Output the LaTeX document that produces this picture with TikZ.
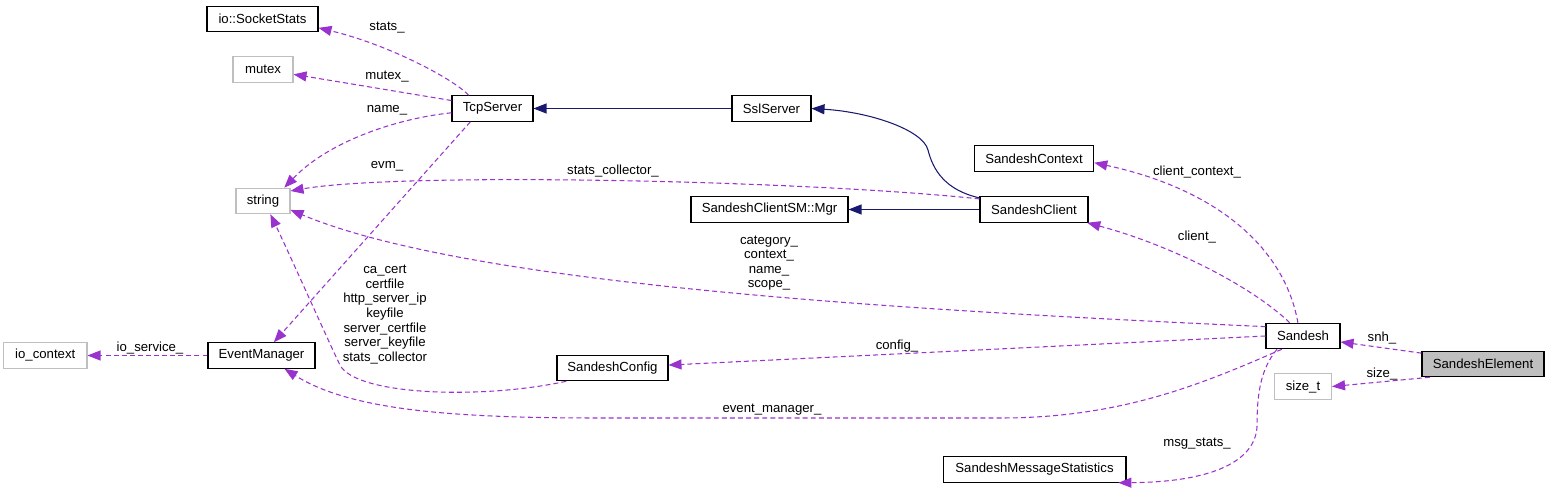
\documentclass[tikz,border=0pt]{standalone}
\usepackage{fontspec}
\setmainfont{Liberation Sans}
\usetikzlibrary{arrows.meta, positioning}
\definecolor{memberpurple}{RGB}{154,50,205}
\definecolor{inheritnavy}{RGB}{25,25,112}
\definecolor{extgray}{RGB}{191,191,191}

\begin{document}
\begin{tikzpicture}[x=0.02cm, y=0.02cm,
    cls/.style={rectangle, draw=black, line width=0.6pt, minimum height=0.51cm, inner sep=0pt, font=\fontsize{7.5}{9}\selectfont},
    extcls/.style={cls, draw=extgray},
    member/.style={-{Triangle[length=2.6mm, width=2mm]}, dash pattern=on 2.8pt off 1.8pt, color=memberpurple, line width=0.6pt},
    inherit/.style={-{Triangle[length=2.6mm, width=2mm]}, color=inheritnavy, line width=0.6pt},
    lbl/.style={font=\fontsize{7.5}{8.3}\selectfont, align=center, inner sep=0pt, text=black}
]
\useasboundingbox (0,0) rectangle (1549,-489);
\node[cls, minimum width=2.22cm] (sockstats) at (262.5,-19) {io::SocketStats};
\node[extcls, minimum width=1.2cm] (mutex) at (263,-69.5) {mutex};
\node[cls, minimum width=1.62cm] (tcp) at (492.5,-108.5) {TcpServer};
\node[cls, minimum width=1.58cm, right=3.96cm of tcp] (ssl) {SslServer};
\node[extcls, minimum width=1.08cm] (string) at (263,-201) {string};
\node[cls, minimum width=2.16cm] (client) at (1034,-209.5) {SandeshClient};
\node[cls, minimum width=3.14cm, left=2.62cm of client] (mgr) {SandeshClientSM::Mgr};
\node[cls, minimum width=2.39cm] (context) at (1034,-158.5) {SandeshContext};
\node[cls, minimum width=2.14cm] (evm) at (261.5,-355.5) {EventManager};
\node[extcls, minimum width=1.67cm, left=2.4cm of evm] (iocontext) {io\_context};
\node[cls, minimum width=2.22cm] (config) at (612.5,-368) {SandeshConfig};
\node[cls, minimum width=1.48cm] (sandesh) at (1303,-336) {Sandesh};
\node[extcls, minimum width=1.14cm, below=0.48cm of sandesh] (sizet) {size\_t};
\node[cls, minimum width=2.44cm, fill=extgray] (element) at (1483,-364) {SandeshElement};
\node[cls, minimum width=3.66cm] (msgstats) at (1034.5,-469.5) {SandeshMessageStatistics};
\draw[inherit] (ssl) -- (tcp);
\draw[inherit] (client.168) .. controls (945,-190) and (933,-170) .. (928,-150) .. controls (923,-130) and (870,-112) .. (ssl.east);
\draw[inherit] (client) -- (mgr);
\draw[member] (tcp.151) .. controls (455,-80) and (390,-45) .. (sockstats.-9) node[lbl] at (387,-28) {stats\_};
\draw[member] (tcp.169) -- (mutex.-9) node[lbl] at (387,-77) {mutex\_};
\draw[member] (tcp.186) .. controls (400,-118) and (330,-140) .. (string.32) node[lbl] at (387,-110) {name\_};
\draw[member] (tcp.211) -- (evm.47) node[lbl] at (387,-166) {evm\_};
\draw[member] (client.169) .. controls (800,-180) and (400,-172) .. (string.20) node[lbl] at (613,-171) {stats\_collector\_};
\draw[member] (sandesh.166) .. controls (900,-310) and (470,-285) .. (string.-18) node[lbl] at (769,-263) {category\_\\context\_\\name\_\\scope\_};
\draw[member] (sandesh.111) .. controls (1285,-250) and (1220,-190) .. (context.-4) node[lbl] at (1197,-172) {client\_context\_};
\draw[member] (sandesh.135) .. controls (1250,-285) and (1170,-245) .. (client.-14) node[lbl] at (1197,-237) {client\_};
\draw[member] (sandesh.west) -- (config.3) node[lbl] at (897,-346) {config\_};
\draw[member] (sandesh.-148) .. controls (1200,-385) and (1120,-418) .. (1000,-418) -- (600,-418) .. controls (450,-418) and (350,-410) .. (evm.-30) node[lbl] at (772,-410) {event\_manager\_};
\draw[member] (sandesh.-153) .. controls (1260,-370) and (1257,-395) .. (1257,-427) .. controls (1255,-460) and (1215,-482) .. (msgstats.-9) node[lbl] at (1197,-444) {msg\_stats\_};
\draw[member] (config.196) .. controls (480,-400) and (355,-395) .. (340,-365) .. controls (330,-345) and (290,-255) .. (string.-61) node[lbl] at (385,-314.5) {ca\_cert\\certfile\\http\_server\_ip\\keyfile\\server\_certfile\\server\_keyfile\\stats\_collector};
\draw[member] (evm) -- (iocontext) node[lbl] at (150,-348) {io\_service\_};
\draw[member] (element.170) -- (sandesh.-9) node[lbl] at (1382,-338) {snh\_};
\draw[member] (element.194) -- (sizet.east) node[lbl] at (1382,-374) {size\_};
\end{tikzpicture}
\end{document}
